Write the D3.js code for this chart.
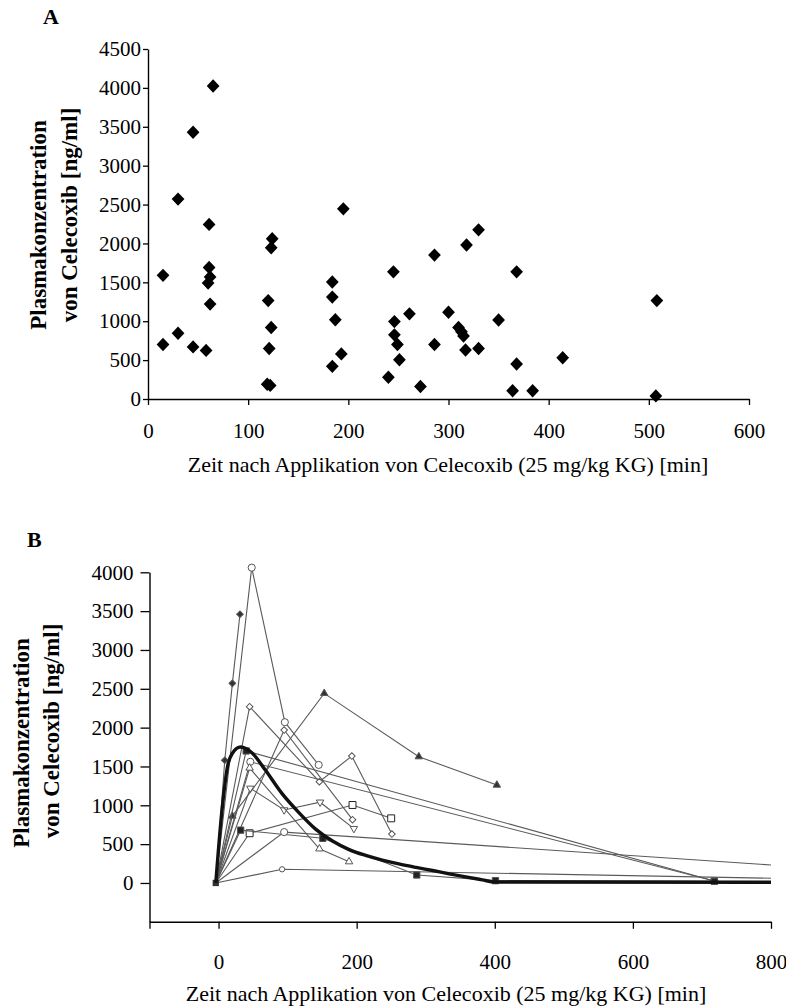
<!DOCTYPE html>
<html>
<head>
<meta charset="utf-8">
<script src="https://cdn.jsdelivr.net/npm/d3@7"></script>
<style>
  body { margin: 0; background: #fff; }
  svg text { font-family: "Liberation Serif", "Times New Roman", serif; fill: #000; }
</style>
</head>
<body>
<svg id="chart" width="786" height="1007"></svg>
<script>
// ---- panel A: all single measurements ----
const scatterTimes = [15, 15, 30, 30, 45, 45, 58, 61, 61, 62, 60, 62, 65,
  124, 123, 120, 123, 121, 119, 122, 184, 184, 187, 184, 193, 195,
  245, 246, 246, 249, 251, 240, 261, 272, 286, 286, 300, 310, 313, 315, 317,
  318, 330, 330, 350, 364, 368, 368, 384, 414, 508, 507];
const scatterValues = [1590, 700, 2570, 845, 3430, 670, 625, 2245, 1690, 1570, 1490, 1220, 4025,
  2060, 1945, 1265, 920, 650, 190, 175, 1505, 1310, 1020, 420, 580, 2445,
  1635, 995, 825, 700, 505, 280, 1095, 160, 1850, 700, 1115, 920, 865, 810, 630,
  1980, 2175, 650, 1015, 107, 1635, 450, 107, 530, 1265, 40];
const scatterTicksX = [0, 100, 200, 300, 400, 500, 600];
const scatterTicksY = [0, 500, 1000, 1500, 2000, 2500, 3000, 3500, 4000, 4500];

// ---- panel B: individual courses ----
const courseTimes = [
  [-4, 9, 20, 31],
  [-4, 48, 96, 145],
  [-4, 45, 146, 193, 251],
  [-4, 95, 194],
  [-4, 46, 95, 147, 196],
  [-4, 20, 153, 290, 403],
  [-4, 40, 718],
  [-4, 46, 718],
  [-4, 45, 194, 250],
  [-4, 32, 151, 287, 401, 718],
  [-4, 45, 146, 189],
  [-4, 95, 800],
  [-4, 92, 800],
];
const courseValues = [
  [0, 1580, 2570, 3460],
  [0, 4060, 2070, 1520],
  [0, 2270, 1304, 1634, 630],
  [0, 1969, 815],
  [0, 1219, 940, 1040, 700],
  [0, 862, 2441, 1626, 1261],
  [0, 1700, 25],
  [0, 1560, 25],
  [0, 640, 1004, 832],
  [0, 680, 575, 103, 30, 22],
  [0, 1480, 440, 274],
  [0, 655, 232],
  [0, 176, 61],
];
const courseMarkers = ["filledDiamond", "openCircle", "openDiamond", "openDiamond",
  "downTriangle", "filledTriangle", "filledSquare", "openCircle", "openSquare",
  "filledSquare", "upTriangle", "openCircle", "smallCircle"];

// fitted mean curve
const meanTimes = [-4, 5, 13, 20, 32, 49, 68, 92, 117, 141, 165, 189, 213, 237,
  261, 286, 310, 334, 358, 382, 400, 800];
const meanValues = [0, 940, 1500, 1670, 1750, 1670, 1450, 1150, 900, 690, 540, 430,
  355, 295, 245, 200, 160, 118, 78, 40, 12, 10];
const courseTicksX = [-100, 0, 200, 400, 600, 800];
const courseTicksY = [0, 500, 1000, 1500, 2000, 2500, 3000, 3500, 4000];

const xTitle = "Zeit nach Applikation von Celecoxib (25 mg/kg KG) [min]";

const svg = d3.select("#chart");

function styleAxis(g, fontSize) {
  g.attr("font-family", null).attr("font-size", null);
  g.select(".domain").attr("stroke", "#000").attr("stroke-width", 1.4);
  g.selectAll(".tick line").attr("stroke", "#000").attr("stroke-width", 1.3);
  g.selectAll(".tick text").style("font-size", fontSize + "px");
}

function yTitle(x1, y1, x2, y2, size) {
  svg.append("text")
    .attr("transform", `translate(${x1},${y1}) rotate(-90)`)
    .attr("text-anchor", "middle")
    .style("font-size", size + "px")
    .style("font-weight", "bold")
    .text("Plasmakonzentration");
  svg.append("text")
    .attr("transform", `translate(${x2},${y2}) rotate(-90)`)
    .attr("text-anchor", "middle")
    .style("font-size", size + "px")
    .style("font-weight", "bold")
    .text("von Celecoxib [ng/ml]");
}

// ================= Panel A =================
const xA = d3.scaleLinear().domain([0, 600]).range([148, 749]);
const yA = d3.scaleLinear().domain([0, 4500]).range([399, 49]);

svg.append("text")
  .attr("x", 43).attr("y", 24)
  .style("font-size", "22px").style("font-weight", "bold")
  .text("A");

svg.append("g")
  .attr("transform", "translate(148,0)")
  .call(d3.axisLeft(yA).tickValues(scatterTicksY).tickFormat(d3.format("d"))
    .tickSize(5).tickSizeOuter(0).tickPadding(2))
  .call((g) => styleAxis(g, 21));

svg.append("g")
  .attr("transform", "translate(0,399)")
  .call(d3.axisBottom(xA).tickValues(scatterTicksX).tickFormat(d3.format("d"))
    .tickSize(6).tickSizeOuter(0).tickPadding(18))
  .call((g) => styleAxis(g, 21));

yTitle(46, 225, 77, 215, 23);

svg.append("text")
  .attr("x", 448).attr("y", 472)
  .attr("text-anchor", "middle")
  .style("font-size", "22px")
  .text(xTitle);

const diamond = d3.symbol(d3.symbolSquare, 90);
svg.append("g")
  .selectAll("path")
  .data(scatterTimes.map((t, i) => ({ t: t, v: scatterValues[i] })))
  .join("path")
  .attr("transform", (d) => `translate(${xA(d.t)},${yA(d.v)}) scale(0.95,1) rotate(45)`)
  .attr("d", diamond)
  .attr("fill", "#000");

// ================= Panel B =================
const xB = d3.scaleLinear().domain([-100, 800]).range([149.5, 771]);
const yB = d3.scaleLinear().domain([-500, 4000]).range([921.8, 572.3]);

svg.append("text")
  .attr("x", 27).attr("y", 547)
  .style("font-size", "22px").style("font-weight", "bold")
  .text("B");

svg.append("g")
  .attr("transform", "translate(149.5,0)")
  .call(d3.axisLeft(yB).tickValues(courseTicksY).tickFormat(d3.format("d"))
    .tickSize(9).tickSizeOuter(0).tickPadding(7))
  .call((g) => styleAxis(g, 21));

svg.append("g")
  .attr("transform", "translate(0,921.8)")
  .call(d3.axisBottom(xB).tickValues(courseTicksX).tickSize(7).tickSizeOuter(0).tickPadding(25)
    .tickFormat((d) => (d < 0 ? "" : d)))
  .call((g) => styleAxis(g, 21));

yTitle(29, 743, 59, 731, 23);

svg.append("text")
  .attr("x", 446).attr("y", 1001)
  .attr("text-anchor", "middle")
  .style("font-size", "22px")
  .text(xTitle);

const markerStyle = {
  filledDiamond: { type: d3.symbolSquare, size: 22, rot: 45, fill: "#333" },
  openDiamond: { type: d3.symbolSquare, size: 22, rot: 45, fill: "#fff" },
  openCircle: { type: d3.symbolCircle, size: 40, rot: 0, fill: "#fff" },
  smallCircle: { type: d3.symbolCircle, size: 22, rot: 0, fill: "#fff" },
  upTriangle: { type: d3.symbolTriangle, size: 24, rot: 0, fill: "#fff" },
  downTriangle: { type: d3.symbolTriangle, size: 24, rot: 180, fill: "#fff" },
  filledTriangle: { type: d3.symbolTriangle, size: 24, rot: 0, fill: "#333" },
  openSquare: { type: d3.symbolSquare, size: 48, rot: 0, fill: "#fff" },
  filledSquare: { type: d3.symbolSquare, size: 40, rot: 0, fill: "#222" },
};

const courseLine = d3.line().x((d) => xB(d.t)).y((d) => yB(d.v));
const courses = svg.append("g");

courseTimes.forEach((times, i) => {
  const pts = times.map((t, j) => ({ t: t, v: courseValues[i][j] }));
  const m = markerStyle[courseMarkers[i]];
  courses.append("path")
    .datum(pts)
    .attr("d", courseLine)
    .attr("fill", "none")
    .attr("stroke", "#5a5a5a")
    .attr("stroke-width", 1.1);
  // no marker where a course runs off the right edge
  courses.append("g")
    .selectAll("path")
    .data(pts.slice(1).filter((d) => d.t < 800))
    .join("path")
    .attr("transform", (d) => `translate(${xB(d.t)},${yB(d.v)}) rotate(${m.rot})`)
    .attr("d", d3.symbol(m.type, m.size))
    .attr("fill", m.fill)
    .attr("stroke", courseMarkers[i] === "openSquare" ? "#222" : "#555")
    .attr("stroke-width", 1);
});

// common start point
courses.append("path")
  .attr("transform", `translate(${xB(courseTimes[0][0])},${yB(0)})`)
  .attr("d", d3.symbol(d3.symbolSquare, 40))
  .attr("fill", "#333");

// fitted mean curve
svg.append("path")
  .datum(meanTimes.map((t, i) => ({ t: t, v: meanValues[i] })))
  .attr("d", d3.line().x((d) => xB(d.t)).y((d) => yB(d.v)).curve(d3.curveMonotoneX))
  .attr("fill", "none")
  .attr("stroke", "#111")
  .attr("stroke-width", 3.4);
</script>
</body>
</html>
